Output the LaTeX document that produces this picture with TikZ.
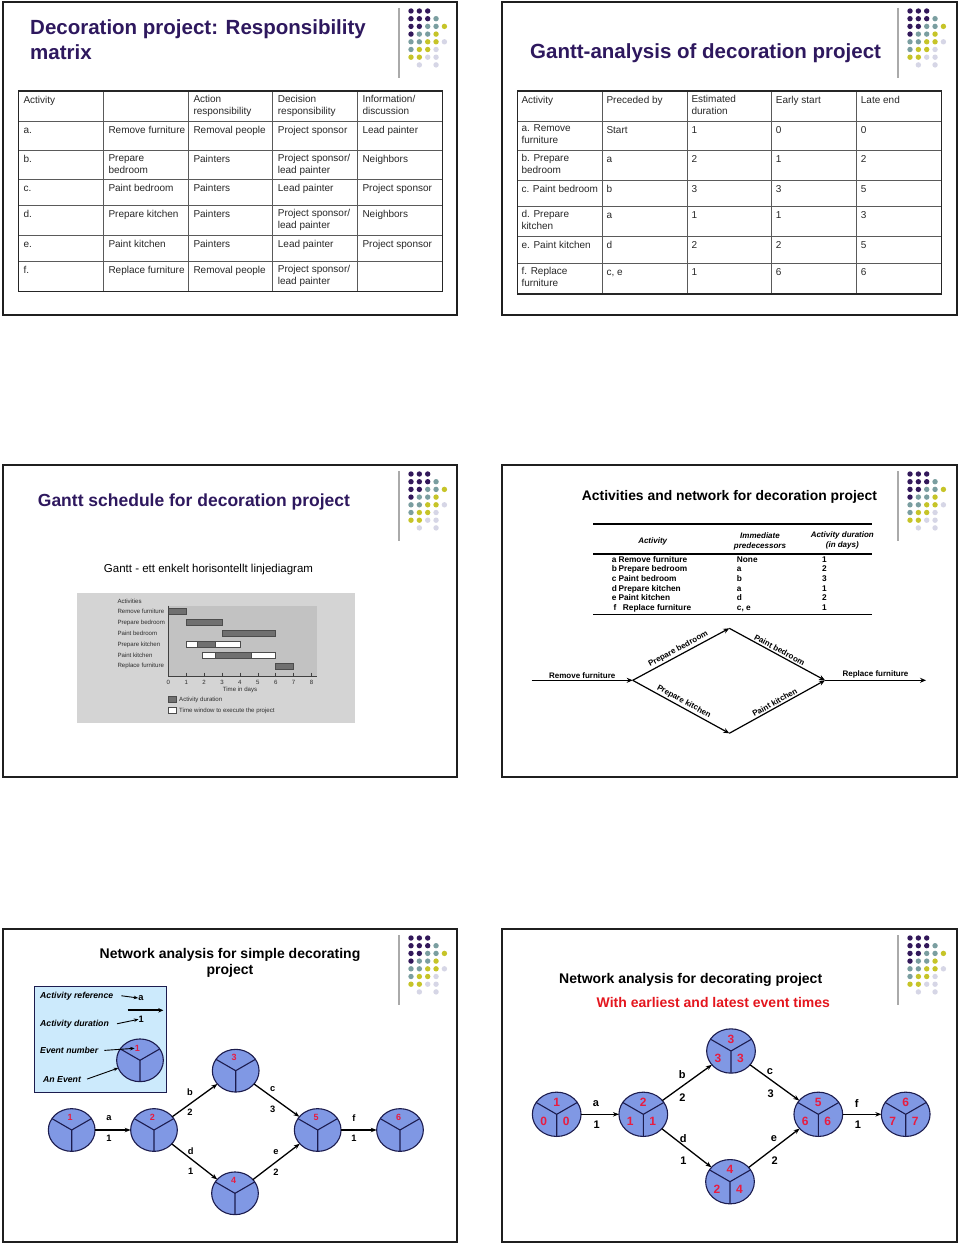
\documentclass[tikz,border=0pt]{standalone}
\usepackage{fontspec}
\setmainfont{Liberation Sans}
\usetikzlibrary{shapes.geometric,arrows.meta}
\definecolor{ttlpurple}{RGB}{46,24,94}
\definecolor{dP}{RGB}{50,24,90}
\definecolor{dT}{RGB}{122,158,160}
\definecolor{dY}{RGB}{198,196,40}
\definecolor{dL}{RGB}{214,214,230}
\definecolor{decogray}{RGB}{170,170,170}
\definecolor{tabtext}{RGB}{40,40,40}
\definecolor{tabline}{RGB}{90,90,90}
\definecolor{evfill}{RGB}{128,152,228}
\definecolor{evdraw}{RGB}{28,28,78}
\definecolor{evred}{RGB}{232,28,64}
\definecolor{subred}{RGB}{228,22,30}
\definecolor{legfill}{RGB}{204,234,252}
\definecolor{imgbg}{RGB}{212,212,212}
\definecolor{imgplot}{RGB}{194,194,194}
\definecolor{imgbar}{RGB}{112,112,112}
\definecolor{imgtext}{RGB}{45,45,45}
\def\dotlist{0/0/dP,1/0/dP,2/0/dP,0/1/dP,1/1/dP,2/1/dP,3/1/dT,0/2/dP,1/2/dP,2/2/dT,3/2/dT,4/2/dY,0/3/dP,1/3/dT,2/3/dT,3/3/dY,0/4/dT,1/4/dT,2/4/dY,3/4/dY,4/4/dL,0/5/dT,1/5/dY,2/5/dY,3/5/dL,0/6/dY,1/6/dY,2/6/dL,3/6/dL,1/7/dL,3/7/dL}
\newcommand{\slidedeco}[2]{%
  \draw[decogray, line width=1.3pt] (#1,#2+6) -- (#1,#2+76);
  \foreach \dc/\dr/\dcol in \dotlist {\fill[\dcol] (#1+12+8.35*\dc,#2+9+7.7*\dr) circle (2.7);}
}
\newcommand{\evY}[1]{\draw[evYline] (#1.center) -- (#1.150) (#1.center) -- (#1.30) (#1.center) -- (#1.270);}
\newcommand{\rowA}[7]{%
  \node[cellA] (#1a) at (23.3,#2+3.6) {#3};
  \node[cellA] (#1b) at (108.3,#2+3.6) {#4};
  \node[cellA] (#1c) at (193.3,#2+3.6) {#5};
  \node[cellA] (#1d) at (277.7,#2+3.6) {#6};
  \node[cellA] (#1e) at (362.3,#2+3.6) {#7};}
\newcommand{\rowB}[7]{%
  \node[cellA] (#1a) at (521.3,#2+3.6) {#3};
  \node[cellA] (#1b) at (606.3,#2+3.6) {#4};
  \node[cellA] (#1c) at (691.3,#2+3.6) {#5};
  \node[cellA] (#1d) at (775.7,#2+3.6) {#6};
  \node[cellA] (#1e) at (860.7,#2+3.6) {#7};}
\begin{document}
\begin{tikzpicture}[x=1pt,y=-1pt,
  slideframe/.style={draw=black!88, line width=2.2pt},
  ttlA/.style={anchor=base west, inner sep=0pt, text=ttlpurple, font=\bfseries\fontsize{20.5}{24}\selectfont},
  ttlB/.style={anchor=base, inner sep=0pt, text=black, font=\bfseries\fontsize{14}{17}\selectfont},
  cellA/.style={anchor=north west, inner sep=0pt, align=left, text=tabtext, font=\fontsize{10}{12}\selectfont, execute at begin node=\strut},
  tabgrid/.style={draw=tabline, line width=0.9pt},
  tabouter/.style={draw=black!85, line width=1.4pt},
  imglbl/.style={inner sep=0pt, text=imgtext, font=\fontsize{6.1}{7}\selectfont},
  imgdark/.style={fill=imgbar, draw=black!70, line width=0.5pt},
  imgwhite/.style={fill=white, draw=black!70, line width=0.5pt},
  imgaxis/.style={draw=black!75, line width=0.6pt},
  s4rule/.style={draw=black, line width=1.3pt},
  s4hd/.style={inner sep=0pt, align=center, font=\bfseries\itshape\fontsize{8}{9.6}\selectfont},
  s4row/.style={anchor=base west, inner sep=0pt, font=\bfseries\fontsize{8.3}{10}\selectfont},
  netarrow/.style={draw=black, line width=1.2pt, -{Stealth[length=6pt,width=5pt]}},
  netlbl/.style={inner sep=1.5pt, font=\bfseries\fontsize{8}{10}\selectfont},
  evnode/.style={ellipse, draw=evdraw, fill=evfill, line width=1.1pt, outer sep=0pt, inner sep=0pt, minimum width=46.7pt, minimum height=42.7pt},
  evnodeB/.style={evnode, minimum width=48.7pt, minimum height=44.3pt},
  evYline/.style={draw=evdraw, line width=1.1pt},
  evnum/.style={inner sep=0pt, text=evred, font=\bfseries\fontsize{9}{10}\selectfont},
  evnumB/.style={inner sep=0pt, text=evred, font=\bfseries\fontsize{12}{14}\selectfont},
  edl/.style={inner sep=0pt, font=\bfseries\fontsize{9.3}{11}\selectfont},
  edlB/.style={inner sep=0pt, font=\bfseries\fontsize{11}{13}\selectfont},
  evarrow/.style={draw=black, line width=1.3pt, -{Stealth[length=6pt,width=4.5pt]}},
  legbox/.style={draw=evdraw, fill=legfill, line width=1pt},
  legtxt/.style={anchor=base west, inner sep=0pt, font=\bfseries\itshape\fontsize{8.7}{10}\selectfont},
  legarrow/.style={draw=black, line width=0.9pt, -{Stealth[length=4.5pt,width=3.5pt]}},
  legthick/.style={draw=black, line width=2pt, -{Stealth[length=5pt,width=4.5pt]}}
]
\useasboundingbox (0,0) rectangle (960,1246);
\fill[white] (0,0) rectangle (960,1246);

% ================= Slide 1 =================
\draw[slideframe] (3,2) rectangle (457,315);
\slidedeco{399}{2}
\node[ttlA] (s1t1) at (30,35) {Decoration project: Responsibility};
\node[ttlA] (s1t2) at (30,59.3) {matrix};
\fill[white] (18.3,91) rectangle (442.3,291.7);
\foreach \xx in {103.3,188.3,272.7,357.3} \draw[tabgrid] (\xx,91) -- (\xx,291.7);
\foreach \yy in {121,150.5,179.3,205,235,261.7} \draw[tabgrid] (18.3,\yy) -- (442.3,\yy);
\draw[tabouter] (18.3,91) rectangle (442.3,291.7);
\rowA{s1h}{91}{Activity}{}{Action\\responsibility}{Decision\\responsibility}{Information/\\discussion}
\rowA{s1a}{121}{a.}{Remove furniture}{Removal people}{Project sponsor}{Lead painter}
\rowA{s1b}{150.5}{b.}{Prepare\\bedroom}{Painters}{Project sponsor/\\lead painter}{Neighbors}
\rowA{s1c}{179.3}{c.}{Paint bedroom}{Painters}{Lead painter}{Project sponsor}
\rowA{s1d}{205}{d.}{Prepare kitchen}{Painters}{Project sponsor/\\lead painter}{Neighbors}
\rowA{s1e}{235}{e.}{Paint kitchen}{Painters}{Lead painter}{Project sponsor}
\rowA{s1f}{261.7}{f.}{Replace furniture}{Removal people}{Project sponsor/\\lead painter}{}

% ================= Slide 2 =================
\draw[slideframe] (502,2) rectangle (957,315);
\slidedeco{898}{2}
\node[ttlA] (s2t) at (530,58.3) {Gantt-analysis of decoration project};
\foreach \xx in {602.3,687.3,771.7,856.7} \draw[tabgrid] (\xx,91) -- (\xx,294);
\foreach \yy in {121,150.5,180,206,236,263} \draw[tabgrid] (517.3,\yy) -- (941.7,\yy);
\draw[tabouter] (517.3,91) rectangle (941.7,294);
\rowB{s2h}{91}{Activity}{Preceded by}{Estimated\\duration}{Early start}{Late end}
\rowB{s2a}{121}{a. Remove\\furniture}{Start}{1}{0}{0}
\rowB{s2b}{150.5}{b. Prepare\\bedroom}{a}{2}{1}{2}
\rowB{s2c}{180}{c. Paint bedroom}{b}{3}{3}{5}
\rowB{s2d}{206}{d. Prepare\\kitchen}{a}{1}{1}{3}
\rowB{s2e}{236}{e. Paint kitchen}{d}{2}{2}{5}
\rowB{s2f}{263}{f. Replace\\furniture}{c, e}{1}{6}{6}

% ================= Slide 3 =================
\draw[slideframe] (3,465) rectangle (457,777);
\slidedeco{399}{465}
\node[ttlA, font=\bfseries\fontsize{17.5}{21}\selectfont] (s3t) at (37.7,506) {Gantt schedule for decoration project};
\node[inner sep=0pt, font=\fontsize{11.5}{13}\selectfont] (s3sub) at (208.5,570) {Gantt - ett enkelt horisontellt linjediagram};
\fill[imgbg] (76.7,592.7) rectangle (354.7,723.3);
\fill[imgplot] (168.3,605.7) rectangle (316.7,676);
\node[imglbl, anchor=west] (gA) at (117.3,601.7) {Activities};
\node[imglbl, anchor=west] (g1) at (117.3,611.5) {Remove furniture};
\node[imglbl, anchor=west] (g2) at (117.3,622.5) {Prepare bedroom};
\node[imglbl, anchor=west] (g3) at (117.3,633.5) {Paint bedroom};
\node[imglbl, anchor=west] (g4) at (117.3,644.5) {Prepare kitchen};
\node[imglbl, anchor=west] (g5) at (117.3,655.5) {Paint kitchen};
\node[imglbl, anchor=west] (g6) at (117.3,666.3) {Replace furniture};
\draw[imgdark] (168.3,608.3) rectangle (186.2,614.3);
\draw[imgdark] (186.2,619.3) rectangle (222,625.3);
\draw[imgdark] (222,630.3) rectangle (275.7,636.3);
\draw[imgwhite] (186.2,641.3) rectangle (239.9,647.3);
\draw[imgdark] (197.3,641.3) rectangle (215.7,647.3);
\draw[imgwhite] (202.7,652.3) rectangle (275.7,658.3);
\draw[imgdark] (215,652.3) rectangle (251.7,658.3);
\draw[imgdark] (275.7,663.3) rectangle (293.6,669.3);
\draw[imgaxis] (168.3,605.7) -- (168.3,676) -- (316.7,676);
\foreach \d in {0,...,8} {\draw[imgaxis] (168.3+17.9*\d,672.5) -- (168.3+17.9*\d,676);
  \node[imglbl] (gt\d) at (168.3+17.9*\d,682.3) {\d};}
\node[imglbl] (gx) at (240,690) {Time in days};
\draw[imgdark] (168.3,696.7) rectangle (176,702.3);
\node[imglbl, anchor=west] (gl1) at (179,699.5) {Activity duration};
\draw[imgwhite] (168.3,707.7) rectangle (176,713.3);
\node[imglbl, anchor=west] (gl2) at (179,710.5) {Time window to execute the project};

% ================= Slide 4 =================
\draw[slideframe] (502,465) rectangle (957,777);
\slidedeco{898}{465}
\node[ttlB, anchor=base west, font=\bfseries\fontsize{13.9}{17}\selectfont] (s4t) at (581.7,500) {Activities and network for decoration project};
\draw[s4rule] (593.3,524) -- (872.3,524);
\draw[s4rule] (593.3,554) -- (872.3,554);
\draw[s4rule] (593.3,614.3) -- (872.3,614.3);
\node[s4hd] (h1) at (652.7,541.7) {Activity};
\node[s4hd] (h2) at (760,541.5) {Immediate\\predecessors};
\node[s4hd] (h3) at (842.3,540.7) {Activity duration\\(in days)};
\node[s4row] (r1l) at (611.7,562) {a};
\node[s4row] (r1n) at (618.3,562) {Remove furniture};
\node[s4row] (r1p) at (736.7,562) {None};
\node[s4row, anchor=base] (r1d) at (824.3,562) {1};
\node[s4row] (r2l) at (611.7,571.7) {b};
\node[s4row] (r2n) at (618.3,571.7) {Prepare bedroom};
\node[s4row] (r2p) at (736.7,571.7) {a};
\node[s4row, anchor=base] (r2d) at (824.3,571.7) {2};
\node[s4row] (r3l) at (611.7,581.3) {c};
\node[s4row] (r3n) at (618.3,581.3) {Paint bedroom};
\node[s4row] (r3p) at (736.7,581.3) {b};
\node[s4row, anchor=base] (r3d) at (824.3,581.3) {3};
\node[s4row] (r4l) at (611.7,591) {d};
\node[s4row] (r4n) at (618.3,591) {Prepare kitchen};
\node[s4row] (r4p) at (736.7,591) {a};
\node[s4row, anchor=base] (r4d) at (824.3,591) {1};
\node[s4row] (r5l) at (611.7,600.7) {e};
\node[s4row] (r5n) at (618.3,600.7) {Paint kitchen};
\node[s4row] (r5p) at (736.7,600.7) {d};
\node[s4row, anchor=base] (r5d) at (824.3,600.7) {2};
\node[s4row] (r6l) at (613.3,610.4) {f};
\node[s4row] (r6n) at (622.7,610.4) {Replace furniture};
\node[s4row] (r6p) at (736.7,610.4) {c, e};
\node[s4row, anchor=base] (r6d) at (824.3,610.4) {1};
\coordinate (s4S) at (531.7,680.3);
\coordinate (s4A) at (632.7,680.3);
\coordinate (s4B) at (729.3,628.3);
\coordinate (s4C) at (729.3,733.3);
\coordinate (s4D) at (825,680.3);
\coordinate (s4E) at (926,680.3);
\draw[netarrow] (s4S) -- node[above, netlbl] (l4a) {Remove furniture} (s4A);
\draw[netarrow] (s4A) -- node[sloped, above, netlbl] (l4b) {Prepare bedroom} (s4B);
\draw[netarrow] (s4A) -- node[sloped, above, netlbl] (l4d) {Prepare kitchen} (s4C);
\draw[netarrow] (s4B) -- node[sloped, above, netlbl] (l4c) {Paint bedroom} (s4D);
\draw[netarrow] (s4C) -- node[sloped, above, netlbl] (l4e) {Paint kitchen} (s4D);
\draw[netarrow] (s4D) -- node[above, netlbl] (l4f) {Replace furniture} (s4E);

% ================= Slide 5 =================
\draw[slideframe] (3,929) rectangle (457,1242);
\slidedeco{399}{929}
\node[ttlB] (s5t1) at (230,958.3) {Network analysis for simple decorating};
\node[ttlB] (s5t2) at (230,974) {project};
\draw[legbox] (34.3,986.7) rectangle (166.7,1092.3);
\node[legtxt] (lg1) at (40,998) {Activity reference};
\node[edl] (lga) at (141,998) {a};
\draw[legarrow] ([xshift=8pt]lg1.east) -- (lga.west);
\coordinate (lgt1) at (127.7,1010.3);
\coordinate (lgt2) at (163.3,1010.3);
\draw[legthick] (lgt1) -- (lgt2);
\node[legtxt] (lg2) at (40,1026) {Activity duration};
\node[edl] (lgd) at (141.3,1019.3) {1};
\draw[legarrow] ([xshift=8pt]lg2.east) -- (lgd.west);
\node[legtxt] (lg3) at (40,1053.5) {Event number};
\node[legtxt] (lg4) at (43,1082) {An Event};
\node[evnode] (s5L) at (140,1060.3) {};
\evY{s5L}
\node[evnum] (s5Ln) at (137.3,1048.3) {1};
\draw[legarrow] ([xshift=6pt]lg3.east) -- (s5Ln.west);
\draw[legarrow] ([xshift=6pt]lg4.east) -- (s5L);
\node[evnode] (s5n1) at (71.7,1130) {};
\node[evnode] (s5n2) at (154,1130) {};
\node[evnode] (s5n3) at (235.7,1070.7) {};
\node[evnode] (s5n4) at (235,1193.3) {};
\node[evnode] (s5n5) at (317.7,1130) {};
\node[evnode] (s5n6) at (400,1130) {};
\evY{s5n1}\evY{s5n2}\evY{s5n3}\evY{s5n4}\evY{s5n5}\evY{s5n6}
\node[evnum] (s5m1) at (70.2,1117) {1};
\node[evnum] (s5m2) at (152.5,1117) {2};
\node[evnum] (s5m3) at (234.2,1057.7) {3};
\node[evnum] (s5m4) at (233.5,1180.3) {4};
\node[evnum] (s5m5) at (316.2,1117) {5};
\node[evnum] (s5m6) at (398.5,1117) {6};
\draw[evarrow] (s5n1) -- (s5n2);
\draw[evarrow] (s5n2) -- (s5n3);
\draw[evarrow] (s5n2) -- (s5n4);
\draw[evarrow] (s5n3) -- (s5n5);
\draw[evarrow] (s5n4) -- (s5n5);
\draw[evarrow] (s5n5) -- (s5n6);
\node[edl] (s5la) at (109,1118.3) {a};
\node[edl] (s5da) at (109,1138.3) {1};
\node[edl] (s5lb) at (190,1091.7) {b};
\node[edl] (s5db) at (190,1112.3) {2};
\node[edl] (s5lc) at (272.7,1089) {c};
\node[edl] (s5dc) at (272.7,1109) {3};
\node[edl] (s5ld) at (190.7,1151) {d};
\node[edl] (s5dd) at (190.7,1171.7) {1};
\node[edl] (s5le) at (276,1151.7) {e};
\node[edl] (s5de) at (276,1172) {2};
\node[edl] (s5lf) at (354,1118.3) {f};
\node[edl] (s5df) at (354,1138.3) {1};

% ================= Slide 6 =================
\draw[slideframe] (502,929) rectangle (957,1242);
\slidedeco{898}{929}
\node[ttlB] (s6t1) at (690.7,983.3) {Network analysis for decorating project};
\node[ttlB, text=subred] (s6t2) at (713.3,1007.3) {With earliest and latest event times};
\node[evnodeB] (s6n1) at (556.7,1114.3) {};
\node[evnodeB] (s6n2) at (643.3,1114.3) {};
\node[evnodeB] (s6n3) at (731,1051) {};
\node[evnodeB] (s6n4) at (730,1181.7) {};
\node[evnodeB] (s6n5) at (818.3,1114.3) {};
\node[evnodeB] (s6n6) at (905.7,1114.3) {};
\evY{s6n1}\evY{s6n2}\evY{s6n3}\evY{s6n4}\evY{s6n5}\evY{s6n6}
\node[evnumB] (s6a1) at ([yshift=12pt]s6n1.center) {1};
\node[evnumB] (s6b1) at ([xshift=-13pt,yshift=-7.4pt]s6n1.center) {0};
\node[evnumB] (s6c1) at ([xshift=9.5pt,yshift=-7.4pt]s6n1.center) {0};
\node[evnumB] (s6a2) at ([yshift=12pt]s6n2.center) {2};
\node[evnumB] (s6b2) at ([xshift=-13pt,yshift=-7.4pt]s6n2.center) {1};
\node[evnumB] (s6c2) at ([xshift=9.5pt,yshift=-7.4pt]s6n2.center) {1};
\node[evnumB] (s6a3) at ([yshift=12pt]s6n3.center) {3};
\node[evnumB] (s6b3) at ([xshift=-13pt,yshift=-7.4pt]s6n3.center) {3};
\node[evnumB] (s6c3) at ([xshift=9.5pt,yshift=-7.4pt]s6n3.center) {3};
\node[evnumB] (s6a4) at ([yshift=12pt]s6n4.center) {4};
\node[evnumB] (s6b4) at ([xshift=-13pt,yshift=-7.4pt]s6n4.center) {2};
\node[evnumB] (s6c4) at ([xshift=9.5pt,yshift=-7.4pt]s6n4.center) {4};
\node[evnumB] (s6a5) at ([yshift=12pt]s6n5.center) {5};
\node[evnumB] (s6b5) at ([xshift=-13pt,yshift=-7.4pt]s6n5.center) {6};
\node[evnumB] (s6c5) at ([xshift=9.5pt,yshift=-7.4pt]s6n5.center) {6};
\node[evnumB] (s6a6) at ([yshift=12pt]s6n6.center) {6};
\node[evnumB] (s6b6) at ([xshift=-13pt,yshift=-7.4pt]s6n6.center) {7};
\node[evnumB] (s6c6) at ([xshift=9.5pt,yshift=-7.4pt]s6n6.center) {7};
\draw[evarrow] (s6n1) -- (s6n2);
\draw[evarrow] (s6n2) -- (s6n3);
\draw[evarrow] (s6n2) -- (s6n4);
\draw[evarrow] (s6n3) -- (s6n5);
\draw[evarrow] (s6n4) -- (s6n5);
\draw[evarrow] (s6n5) -- (s6n6);
\node[edlB] (s6la) at (596,1103.7) {a};
\node[edlB] (s6da) at (596.7,1125) {1};
\node[edlB] (s6lb) at (682.3,1075) {b};
\node[edlB] (s6db) at (682.3,1097.7) {2};
\node[edlB] (s6lc) at (770,1071.7) {c};
\node[edlB] (s6dc) at (770.7,1093.7) {3};
\node[edlB] (s6ld) at (683.3,1138.3) {d};
\node[edlB] (s6dd) at (683.3,1160.3) {1};
\node[edlB] (s6le) at (774,1138.3) {e};
\node[edlB] (s6de) at (774.7,1160.3) {2};
\node[edlB] (s6lf) at (856.7,1103.7) {f};
\node[edlB] (s6df) at (858,1125) {1};
\end{tikzpicture}
\end{document}
